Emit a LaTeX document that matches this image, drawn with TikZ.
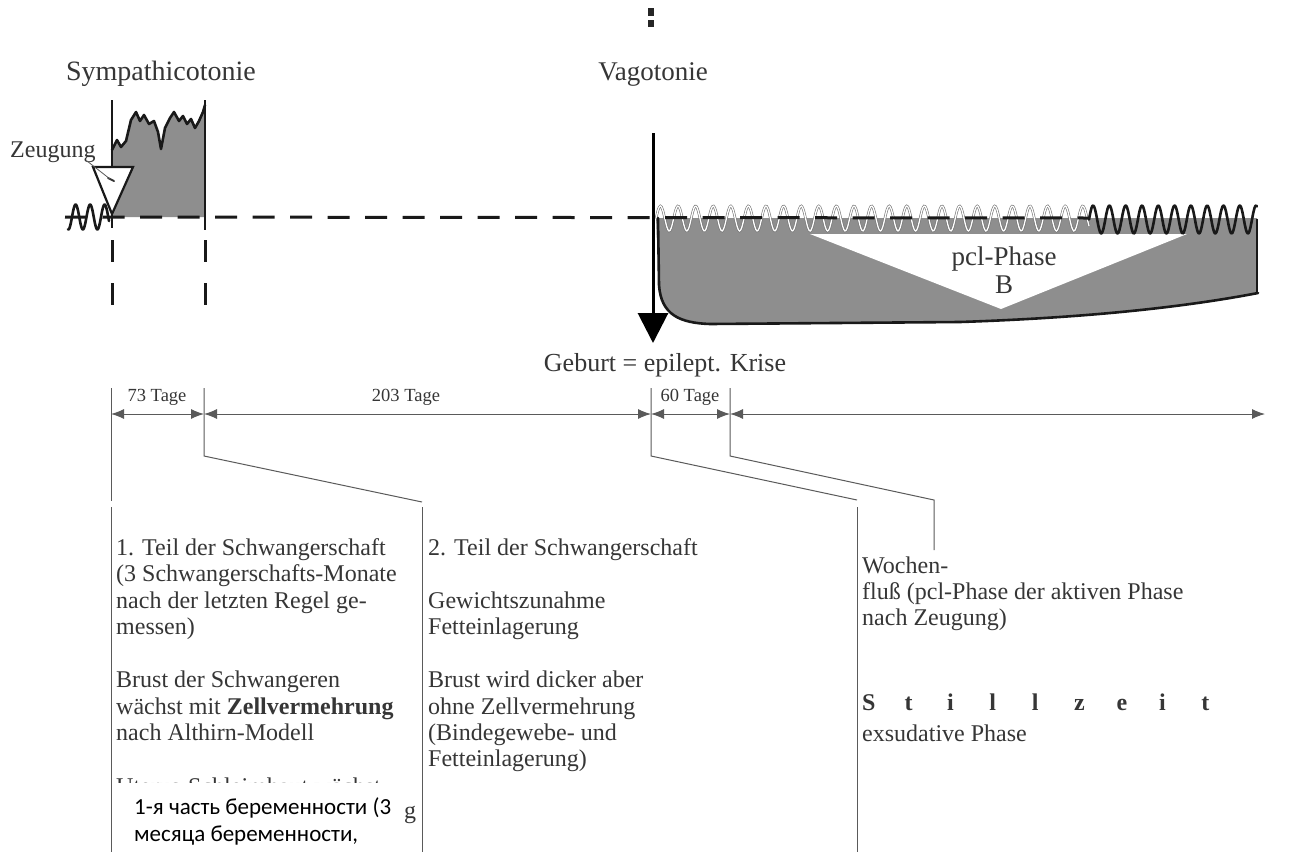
\documentclass[tikz,border=0pt]{standalone}
\usepackage{fontspec}
\setmainfont{Liberation Serif}
\newfontfamily\rufont{Carlito}
\usetikzlibrary{arrows.meta}
\definecolor{txt}{HTML}{363636}
\definecolor{ln}{HTML}{5A5A5A}
\definecolor{fillg}{HTML}{8E8E8E}
\newcommand\lsp[1]{\makebox[42.4pt][l]{#1}}
\begin{document}
\begin{tikzpicture}[x=1pt,y=-1pt,
  head/.style={inner sep=0pt, text=txt, anchor=base, font=\fontsize{27}{30}\selectfont},
  body/.style={inner sep=0pt, text=txt, anchor=base west, font=\fontsize{24}{28}\selectfont},
  small/.style={inner sep=0pt, text=txt, anchor=base, font=\fontsize{18.5}{22}\selectfont},
  ru/.style={inner sep=0pt, text=black, anchor=base west, font=\rufont\fontsize{23}{27}\selectfont},
  thinln/.style={draw=ln, line width=1pt},
  dimarrow/.style={thinln, {Latex[length=13pt,width=10pt]}-{Latex[length=13pt,width=10pt]}},
  heavy/.style={line width=2.6pt, draw=black!90, line join=round, line cap=round},
  dashln/.style={line width=3pt, draw=black!90, dash pattern=on 22pt off 15.5pt},
  vdash/.style={line width=3pt, draw=black!90, dash pattern=on 22pt off 21pt}
]
\useasboundingbox (0,0) rectangle (1304,852);
\fill[white] (0,0) rectangle (1304,852);

% colon at top
\fill[black!85] (648,8) rectangle (654,16);
\fill[black!85] (648,20) rectangle (654,27);

% ---------- left block (Sympathicotonie) ----------
\fill[fillg] (112,217) -- (112,150) -- (117,140) -- (121,147) -- (126,141) -- (131,120) -- (136,112)
  -- (140,121) -- (144,115) -- (149,124) -- (154,121) -- (158,132) -- (161,149) -- (165,128)
  -- (170,118) -- (174,112) -- (179,121) -- (183,116) -- (187,124) -- (191,119) -- (195,128)
  -- (199,121) -- (203,112) -- (205,105) -- (205,217) -- cycle;
\draw[heavy] (112,150) -- (117,140) -- (121,147) -- (126,141) -- (131,120) -- (136,112)
  -- (140,121) -- (144,115) -- (149,124) -- (154,121) -- (158,132) -- (161,149) -- (165,128)
  -- (170,118) -- (174,112) -- (179,121) -- (183,116) -- (187,124) -- (191,119) -- (195,128)
  -- (199,121) -- (203,112) -- (205,105);
\draw[line width=2.6pt, black!90] (112,100) -- (112,228);
\draw[line width=2.6pt, black!90] (205,100) -- (205,230);
\draw[vdash] (112,240) -- (112,306);
\draw[vdash] (205,240) -- (205,306);

% ---------- right block (Vagotonie) ----------
\fill[fillg] (656,218) -- (1257,218) -- (1257,293) .. controls (1180,308) and (1080,318) .. (960,322)
  -- (710,324) .. controls (680,323) and (661,315) .. (659,285) -- cycle;
\fill[white] (810,234) -- (1187,234) -- (1001,309) -- cycle;
\draw[draw=black!55, double=white, double distance=1.3pt, line width=0.6pt]
  plot[domain=656:1089, samples=400, smooth] (\x, {218.5 - 12.5*sin(20.4545*(\x-656))});

% main dashed baseline
\draw[dashln] (65,217) -- (1089,218);

% thick wave right
\draw[heavy] plot[domain=1089:1257, samples=200, smooth] (\x, {219.5 - 14*sin(22.0859*(\x-1089))});
% bottom curve
\draw[heavy] (658,218) -- (659,285) .. controls (661,315) and (680,323) .. (710,324)
  -- (960,322) .. controls (1080,318) and (1180,308) .. (1258,293);
\draw[line width=2pt, black!90] (1257,219) -- (1257,293);

% birth arrow
\coordinate (arrtop) at (653,133);
\coordinate (arrtip) at (653,343);
\draw[line width=3pt, black, -{Triangle[length=30pt,width=30pt]}] (arrtop) -- (arrtip);

% left wave
\draw[heavy] plot[domain=68:109, samples=80, smooth] (\x, {217 - 12.5*sin(24.8276*(\x-72))});

% Zeugung triangle
\filldraw[fill=white, draw=black!90, line width=2.2pt, line join=miter] (93,167) -- (133,167) -- (112,214) -- cycle;
\coordinate (zdot) at (110,179);
\draw[line width=2pt, black!80, line cap=round] (108,178) -- (114,181);
\node[inner sep=0pt, text=txt, anchor=base west, font=\fontsize{24}{28}\selectfont] (zeug) at (10,157) {Zeugung};
\coordinate (zleader) at (87,161);
\draw[thinln, line width=0.8pt] (zleader) -- (zdot);

% headings
\node[head, font=\fontsize{28}{30}\selectfont] (symp) at (161,80) {Sympathicotonie};
\node[head] (vago) at (653,80) {Vagotonie};
\node[head, font=\fontsize{26}{30}\selectfont] (geb) at (665,371) {Geburt = epilept. Krise};
\node[head] (pcl) at (1004,265) {pcl-Phase};
\node[head] (pclb) at (1004,293) {B};

% ---------- timeline ----------
\coordinate (t1) at (111,388);  \coordinate (t1b) at (111,501);
\coordinate (t2) at (204,388);  \coordinate (t2b) at (204,456);
\coordinate (t3) at (651,388);  \coordinate (t3b) at (651,456);
\coordinate (t4) at (730,388);  \coordinate (t4b) at (730,456);
\coordinate (d1) at (111,414);  \coordinate (d2) at (204,414);
\coordinate (d3) at (651,414);  \coordinate (d4) at (730,414);
\coordinate (d5) at (1265,414);
\coordinate (c2) at (422,502);  \coordinate (c3) at (857,500);
\coordinate (c4) at (934,500);  \coordinate (c4e) at (934,550);
\coordinate (b1a) at (111,507); \coordinate (b1z) at (111,852);
\coordinate (b2a) at (422,507); \coordinate (b2z) at (422,852);
\coordinate (b3a) at (857,507); \coordinate (b3z) at (857,852);

\draw[thinln] (t1) -- (t1b);
\draw[thinln] (t2) -- (t2b) -- (c2);
\draw[thinln] (t3) -- (t3b) -- (c3);
\draw[thinln] (t4) -- (t4b) -- (c4) -- (c4e);
\draw[thinln] (b1a) -- (b1z);
\draw[thinln] (b2a) -- (b2z);
\draw[thinln] (b3a) -- (b3z);

\draw[dimarrow] (d1) -- (d2);
\draw[dimarrow] (d2) -- (d3);
\draw[dimarrow] (d3) -- (d4);
\draw[dimarrow] (d4) -- (d5);

\node[small] (l73) at (157,401) {73 Tage};
\node[small] (l203) at (406,401) {203 Tage};
\node[small] (l60) at (690,401) {60 Tage};

% ---------- box 1 ----------
\node[body] (p1a) at (116,555) {1. Teil der Schwangerschaft};
\node[body] (p1b) at (116,581) {(3 Schwangerschafts-Monate};
\node[body] (p1c) at (116,608) {nach der letzten Regel ge-};
\node[body] (p1d) at (116,634) {messen)};
\node[body] (p1e) at (116,687) {Brust der Schwangeren};
\node[body] (p1f) at (116,714) {wächst mit \textbf{Zellvermehrung}};
\node[body] (p1g) at (116,740) {nach Althirn-Modell};
\node[body] (p1h) at (116,794) {Uterus-Schleimhaut wächst};
\node[body] (p1i) at (404,818) {g};

% ---------- box 2 ----------
\node[body] (p2a) at (428,555) {2. Teil der Schwangerschaft};
\node[body] (p2b) at (428,608) {Gewichtszunahme};
\node[body] (p2c) at (428,634) {Fetteinlagerung};
\node[body] (p2d) at (428,687) {Brust wird dicker aber};
\node[body] (p2e) at (428,714) {ohne Zellvermehrung};
\node[body] (p2f) at (428,740) {(Bindegewebe- und};
\node[body] (p2g) at (428,766) {Fetteinlagerung)};

% ---------- box 3 ----------
\node[body] (p3a) at (862,573) {Wochen-};
\node[body] (p3b) at (862,599) {fluß (pcl-Phase der aktiven Phase};
\node[body] (p3c) at (862,625) {nach Zeugung)};
\node[body, font=\fontsize{24}{28}\selectfont\bfseries] (p3d) at (862,710) {\lsp{S}\lsp{t}\lsp{i}\lsp{l}\lsp{l}\lsp{z}\lsp{e}\lsp{i}t};
\node[body] (p3e) at (862,741) {exsudative Phase};

% ---------- overlay (Russian) ----------
\fill[white] (113,783) rectangle (403,852);
\node[ru] (ru1) at (134,814) {1-я часть беременности (3};
\node[ru] (ru2) at (134,841) {месяца беременности,};
\end{tikzpicture}
\end{document}
